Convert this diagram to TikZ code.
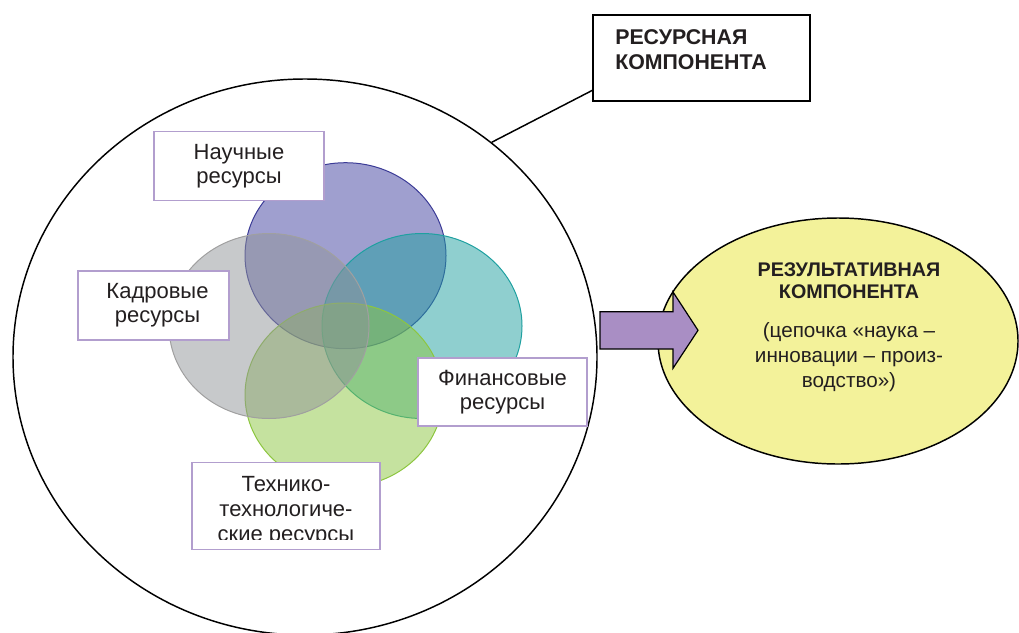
\documentclass[tikz,border=0pt]{standalone}
\usepackage{fontspec}
\setmainfont{Liberation Sans}
\usetikzlibrary{shapes.geometric}
\definecolor{lav}{RGB}{178,158,206}
\definecolor{txt}{RGB}{35,31,32}
\definecolor{arrowc}{RGB}{169,142,196}
\definecolor{yel}{RGB}{243,242,154}
\definecolor{vpurple}{RGB}{64,64,160}
\definecolor{vpurpleb}{RGB}{59,59,150}
\definecolor{vgray}{RGB}{144,147,152}
\definecolor{vgrayb}{RGB}{160,160,160}
\definecolor{vteal}{RGB}{32,160,160}
\definecolor{vtealb}{RGB}{31,160,160}
\definecolor{vgreen}{RGB}{140,197,64}
\definecolor{vgreenb}{RGB}{141,198,63}
\begin{document}
\begin{tikzpicture}[x=0.75pt,y=-0.75pt,
  lbl/.style={draw=lav, line width=1.2pt, fill=white, align=center, inner sep=0pt,
              font=\fontsize{16.5}{18}\selectfont, text=txt},
  venn/.style={ellipse, inner sep=0pt, fill opacity=0.5, line width=0.75pt},
  outline/.style={line width=1.1pt, draw=black}
]
\useasboundingbox (0,0) rectangle (1019,632);
\clip (0,0) rectangle (1019,632);

% big resource circle
\node[ellipse, outline, minimum width=438pt, minimum height=417pt, inner sep=0pt] (res) at (305,357) {};

% Venn circles
\node[venn, fill=vpurple, draw=vpurpleb, minimum width=150.75pt, minimum height=139.5pt] (cp) at (345.5,255.7) {};
\node[venn, fill=vteal, draw=vtealb, minimum width=150pt, minimum height=138.75pt] (ct) at (422,326) {};
\node[venn, fill=vgreen, draw=vgreenb, minimum width=148.5pt, minimum height=138pt] (cg) at (344,395) {};
\node[venn, fill=vgray, draw=vgrayb, minimum width=150pt, minimum height=138.75pt] (ck) at (269,326) {};

% labels
\node[lbl, minimum width=127.5pt, minimum height=51.75pt] (sci) at (239,166) {Научные\\ресурсы};
\node[lbl, minimum width=113.25pt, minimum height=52.1pt] (kadr) at (153.5,305.5) {\hspace*{6pt}Кадровые\\\hspace*{6pt}ресурсы};
\node[lbl, minimum width=126.75pt, minimum height=51.4pt] (fin) at (502.5,392) {Финансовые\\ресурсы};
\node[lbl, minimum width=141pt, minimum height=65.25pt] (tech) at (285.8,506) {};
\begin{scope}
  \clip (191,462) rectangle (380,539.5);
  \node[align=center, anchor=north, inner sep=0pt, text=txt,
        font=\fontsize{16.5}{18.8}\selectfont] (techtxt) at (286,476)
        {Технико-\\технологиче-\\ские ресурсы};
\end{scope}

% title box and connector
\node[outline, minimum width=162.75pt, minimum height=64.5pt, inner sep=0pt] (title) at (701.5,58) {};
\node[anchor=north west, align=left, inner sep=0pt, text=txt,
      font=\fontsize{16}{18.75}\bfseries\selectfont] (titletxt) at (615,29.7)
      {РЕСУРСНАЯ\\КОМПОНЕНТА};
\coordinate (tlend) at (593,90);
\draw[line width=1.1pt] (res.49) -- (tlend);

% result ellipse
\node[ellipse, outline, fill=yel, minimum width=270pt, minimum height=184.5pt, inner sep=0pt] (result) at (838,341) {};
\node[anchor=north, align=center, inner sep=0pt, text=txt,
      font=\fontsize{14.8}{16}\bfseries\selectfont] (rtitle) at (849,262.9)
      {РЕЗУЛЬТАТИВНАЯ\\КОМПОНЕНТА};
\node[anchor=north, align=center, inner sep=0pt, text=txt,
      font=\fontsize{15.5}{19}\selectfont] (rtext) at (849,322)
      {(цепочка «наука –\\инновации – произ-\\водство»)};

% block arrow
\draw[fill=arrowc, line width=0.9pt, line join=miter]
  (600,311.7) -- (673,311.7) -- (673,292) -- (698,330.3) -- (673,368.3)
  -- (673,349) -- (600,349) -- cycle;
\end{tikzpicture}
\end{document}
